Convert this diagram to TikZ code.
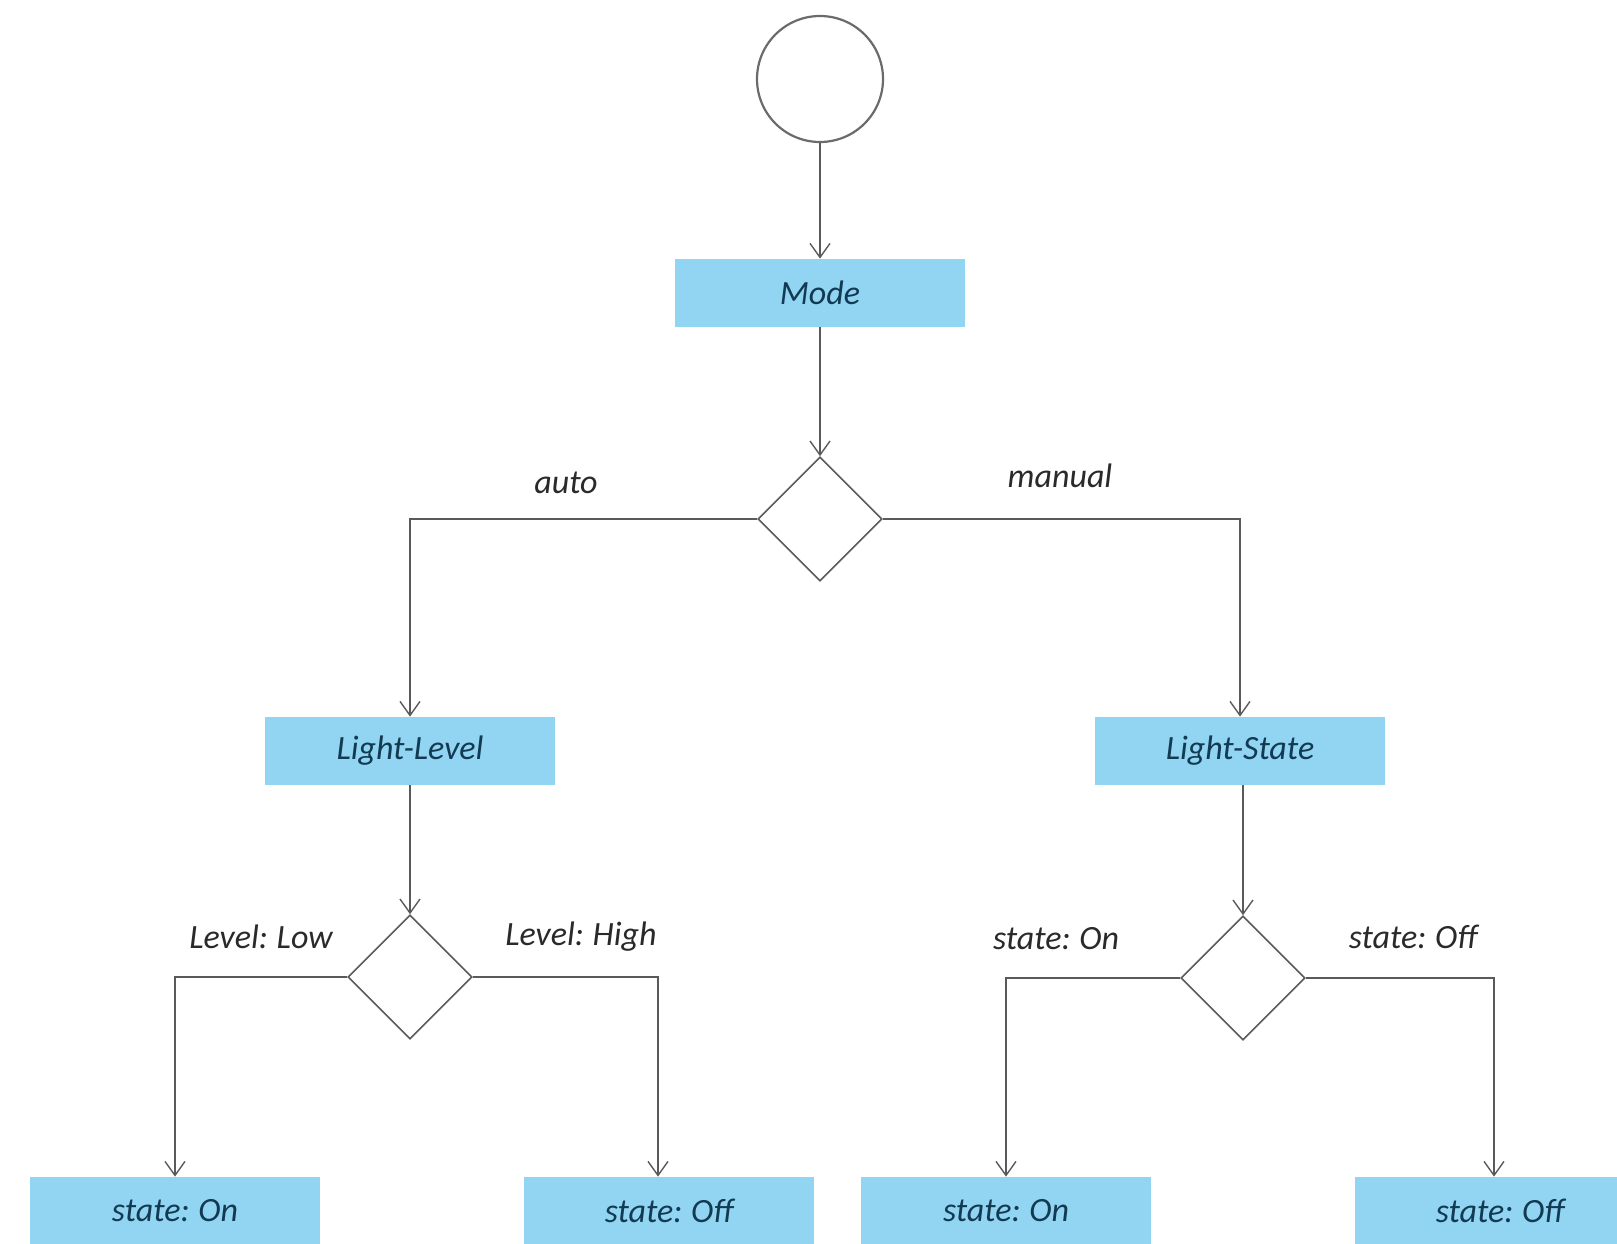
\documentclass[tikz,border=0pt]{standalone}
\usepackage{fontspec}
\setmainfont{Carlito}
\usetikzlibrary{arrows.meta,shapes.geometric,calc}
\definecolor{boxblue}{HTML}{92D5F2}
\definecolor{linegray}{HTML}{5A5A5A}
\definecolor{boxtext}{HTML}{123A52}
\definecolor{labeltext}{HTML}{2A2A2A}
\newcommand{\tightspacing}{\spaceskip=0.18em\relax}
\tikzset{
  box/.style={rectangle, fill=boxblue, minimum width=145pt, minimum height=34pt, inner sep=0pt,
    text=boxtext, font=\fontsize{17}{20}\selectfont\itshape\tightspacing},
  decision/.style={diamond, draw=linegray, line width=0.8pt, fill=white, minimum width=62pt, minimum height=62pt, inner sep=0pt, aspect=1},
  startnode/.style={circle, draw=linegray!90, line width=1.1pt, minimum size=63pt, inner sep=0pt},
  arr/.style={draw=linegray, line width=0.7pt, -{Straight Barb[length=7pt,width=10pt,line width=0.7pt]}},
  lbl/.style={text=labeltext, font=\fontsize{17}{20}\selectfont\itshape\tightspacing, inner sep=0pt}
}
\begin{document}
\begin{tikzpicture}[x=0.5pt,y=-0.5pt]
\useasboundingbox (0,0) rectangle (1617,1243);
\clip (0,0) rectangle (1617,1243);
% nodes
\node[startnode] (start) at (820,79) {};
\node[box] (mode) at (820,293) {Mode};
\node[decision] (d1) at (820,519) {};
\node[box] (ll) at (410,751) {Light-Level};
\node[box] (ls) at (1240,751) {Light-State};
\node[decision] (d2) at (410,977) {};
\node[decision] (d3) at (1243,978) {};
\node[box] (son1) at (175,1211) {state: On};
\node[box] (soff1) at (669,1211) {state: Off};
\node[box] (son2) at (1006,1211) {state: On};
\node[box] (soff2) at (1500,1211) {state: Off};
% labels
\node[lbl] (lauto) at (566,483) {auto};
\node[lbl] (lmanual) at (1060,476) {manual};
\node[lbl] (llow) at (261,937) {Level: Low};
\node[lbl] (lhigh) at (581,937) {Level: High};
\node[lbl] (lon) at (1056,939) {state: On};
\node[lbl] (loff) at (1413,937) {state: Off};
% connectors
\draw[arr] (start.south) -- (mode.north);
\draw[arr] (mode.south) -- (d1.north);
\draw[arr] (d1.west) -| (ll.north);
\draw[arr] (d1.east) -| (ls.north);
\draw[arr] (ll.south) -- (d2.north);
\draw[arr] ($(ls.south)+(3,0)$) -- (d3.north);
\draw[arr] (d2.west) -| (son1.north);
\draw[arr] (d2.east) -| ($(soff1.north)+(-11,0)$);
\draw[arr] (d3.west) -| (son2.north);
\draw[arr] (d3.east) -| ($(soff2.north)+(-6,0)$);
\end{tikzpicture}
\end{document}
